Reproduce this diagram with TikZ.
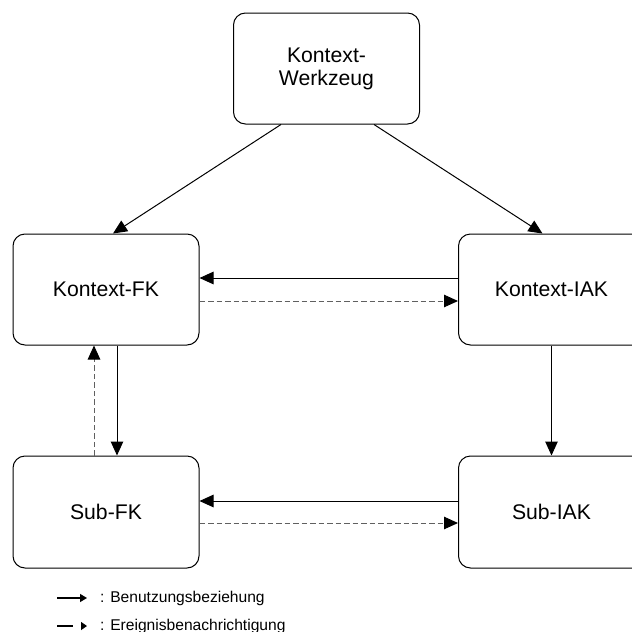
\documentclass[tikz,border=0pt]{standalone}
\usepackage{fontspec}
\setmainfont{Liberation Sans}
\usetikzlibrary{arrows.meta}
\definecolor{evgray}{HTML}{606060}
\tikzset{
  comp/.style={draw=black, line width=1pt, rounded corners=12pt,
    minimum width=186pt, minimum height=111pt, inner sep=0pt,
    align=center, font=\fontsize{21.2pt}{23pt}\selectfont},
  uses/.style={draw=black, line width=1pt, -{Triangle[length=14pt,width=12.5pt]}},
  notify/.style={draw=evgray, line width=1pt, dash pattern=on 5.5pt off 3pt,
    -{Triangle[length=14pt,width=12.5pt,color=black,fill=black]}},
  legtext/.style={anchor=west, inner sep=0pt, font=\fontsize{15.6pt}{17pt}\selectfont}
}
\begin{document}
\begin{tikzpicture}[x=1pt, y=-1pt]
  \useasboundingbox (0,0) rectangle (632,632);

  % components
  \node[comp] (tool) at (326.5,68.5) {Kontext-\\Werkzeug};
  \node[comp] (kfk)  at (106,289.5) {Kontext-FK};
  \node[comp] (kiak) at (551.5,289.5) {Kontext-IAK};
  \node[comp, minimum height=112pt] (sfk)  at (106,512) {Sub-FK};
  \node[comp, minimum height=112pt] (siak) at (551.5,512) {Sub-IAK};

  % tool uses both context components
  \draw[uses] ([xshift=-45.5pt]tool.south) -- ([xshift=7pt]kfk.north);
  \draw[uses] ([xshift=47.5pt]tool.south) -- ([xshift=-9pt]kiak.north);

  % context level
  \draw[uses] ([yshift=11.5pt]kiak.west) -- ([yshift=11.5pt]kfk.east);
  \draw[notify] ([yshift=-11.5pt]kfk.east) -- ([yshift=-11.5pt]kiak.west);

  % sub level
  \draw[uses] ([yshift=11pt]siak.west) -- ([yshift=11pt]sfk.east);
  \draw[notify] ([yshift=-11pt]sfk.east) -- ([yshift=-11pt]siak.west);

  % vertical relations
  \draw[uses] ([xshift=11pt]kfk.south) -- ([xshift=11pt]sfk.north);
  \draw[notify] ([xshift=-12pt]sfk.north) -- ([xshift=-12pt]kfk.south);
  \draw[uses] (kiak.south) -- (siak.north);

  % legend
  \coordinate (la1) at (57,598);
  \coordinate (lb1) at (87,598);
  \coordinate (la2) at (57,626);
  \coordinate (lb2) at (87,626);
  \draw[line width=1.3pt, -{Triangle[length=7pt,width=8pt]}] (la1) -- (lb1);
  \draw[line width=1.3pt, dash pattern=on 16pt off 20pt,
        -{Triangle[length=6pt,width=8pt]}] (la2) -- (lb2);
  \node[legtext] (t1) at (100,598) {: Benutzungsbeziehung};
  \node[legtext] (t2) at (100,626) {: Ereignisbenachrichtigung};
\end{tikzpicture}
\end{document}
